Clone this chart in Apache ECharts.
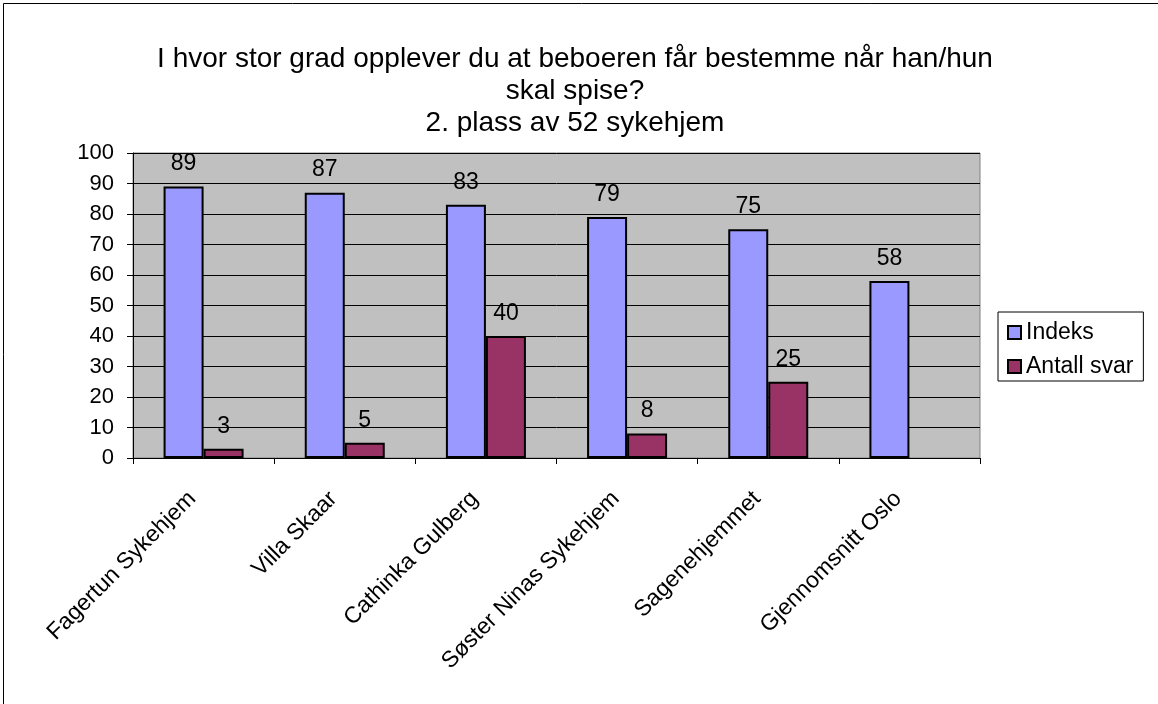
<!DOCTYPE html>
<html>
<head>
<meta charset="utf-8">
<script src="https://cdn.jsdelivr.net/npm/echarts@6/dist/echarts.min.js"></script>
<style>
  html, body { margin: 0; padding: 0; background: #fff; }
  #chart { width: 1158px; height: 704px; }
</style>
</head>
<body>
<div id="chart"></div>
<script>
// data
const categories = ['Fagertun Sykehjem', 'Villa Skaar', 'Cathinka Gulberg', 'Søster Ninas Sykehjem', 'Sagenehjemmet', 'Gjennomsnitt Oslo']
const indeks = [89, 87, 83, 79, 75, 58]
const antallSvar = [3, 5, 40, 8, 25, null]
const seriesNames = ['Indeks', 'Antall svar']
const titleLines = ['I hvor stor grad opplever du at beboeren får bestemme når han/hun', 'skal spise?', '2. plass av 52 sykehjem']

const font = 'Liberation Sans, Arial, sans-serif'
const chart = echarts.init(document.getElementById('chart'))

const barLabel = {
  show: true,
  position: 'top',
  distance: 11,
  color: '#000',
  fontSize: 23,
  fontFamily: font
}

chart.setOption({
  animation: false,
  textStyle: { fontFamily: font },
  title: {
    text: titleLines.join('\n'),
    left: 570,
    textAlign: 'center',
    top: 38,
    textStyle: { fontSize: 28, fontWeight: 'normal', color: '#000', lineHeight: 32, fontFamily: font }
  },
  graphic: [{
    type: 'rect',
    shape: { x: 3.5, y: 3.5, width: 1200, height: 800 },
    style: { fill: 'none', stroke: '#000', lineWidth: 1 },
    silent: true
  }],
  legend: {
    orient: 'vertical',
    left: 998,
    top: 312,
    data: seriesNames,
    icon: 'rect',
    itemWidth: 13,
    itemHeight: 13,
    itemGap: 11,
    padding: [9, 10, 3, 9],
    borderColor: '#000',
    borderWidth: 1,
    textStyle: { fontSize: 23, color: '#000', fontFamily: font },
    itemStyle: { borderColor: '#000', borderWidth: 2 }
  },
  grid: {
    left: 133,
    right: 178,
    top: 153,
    bottom: 246,
    show: true,
    backgroundColor: '#C0C0C0',
    borderColor: '#808080',
    borderWidth: 1
  },
  xAxis: {
    type: 'category',
    data: categories,
    axisLine: { lineStyle: { color: '#000', width: 1 } },
    axisTick: { show: true, length: 6, lineStyle: { color: '#000' } },
    axisLabel: { rotate: 45, margin: 26, padding: [0, 16, 0, 0], fontSize: 23, color: '#000', fontFamily: font, interval: 0 }
  },
  yAxis: {
    type: 'value',
    min: 0,
    max: 100,
    interval: 10,
    axisLine: { show: true, lineStyle: { color: '#000', width: 1 } },
    axisTick: { show: true, length: 6, lineStyle: { color: '#000' } },
    axisLabel: { fontSize: 22, color: '#000', margin: 19, fontFamily: font },
    splitLine: { show: true, lineStyle: { color: '#000', width: 1 } }
  },
  series: [
    {
      name: seriesNames[0],
      type: 'bar',
      data: indeks,
      barWidth: 40,
      barGap: '0%',
      itemStyle: { color: '#9999FF', borderColor: '#000', borderWidth: 2 },
      label: barLabel
    },
    {
      name: seriesNames[1],
      type: 'bar',
      data: antallSvar,
      barWidth: 40,
      itemStyle: { color: '#993366', borderColor: '#000', borderWidth: 2 },
      label: barLabel
    }
  ]
})
</script>
</body>
</html>
